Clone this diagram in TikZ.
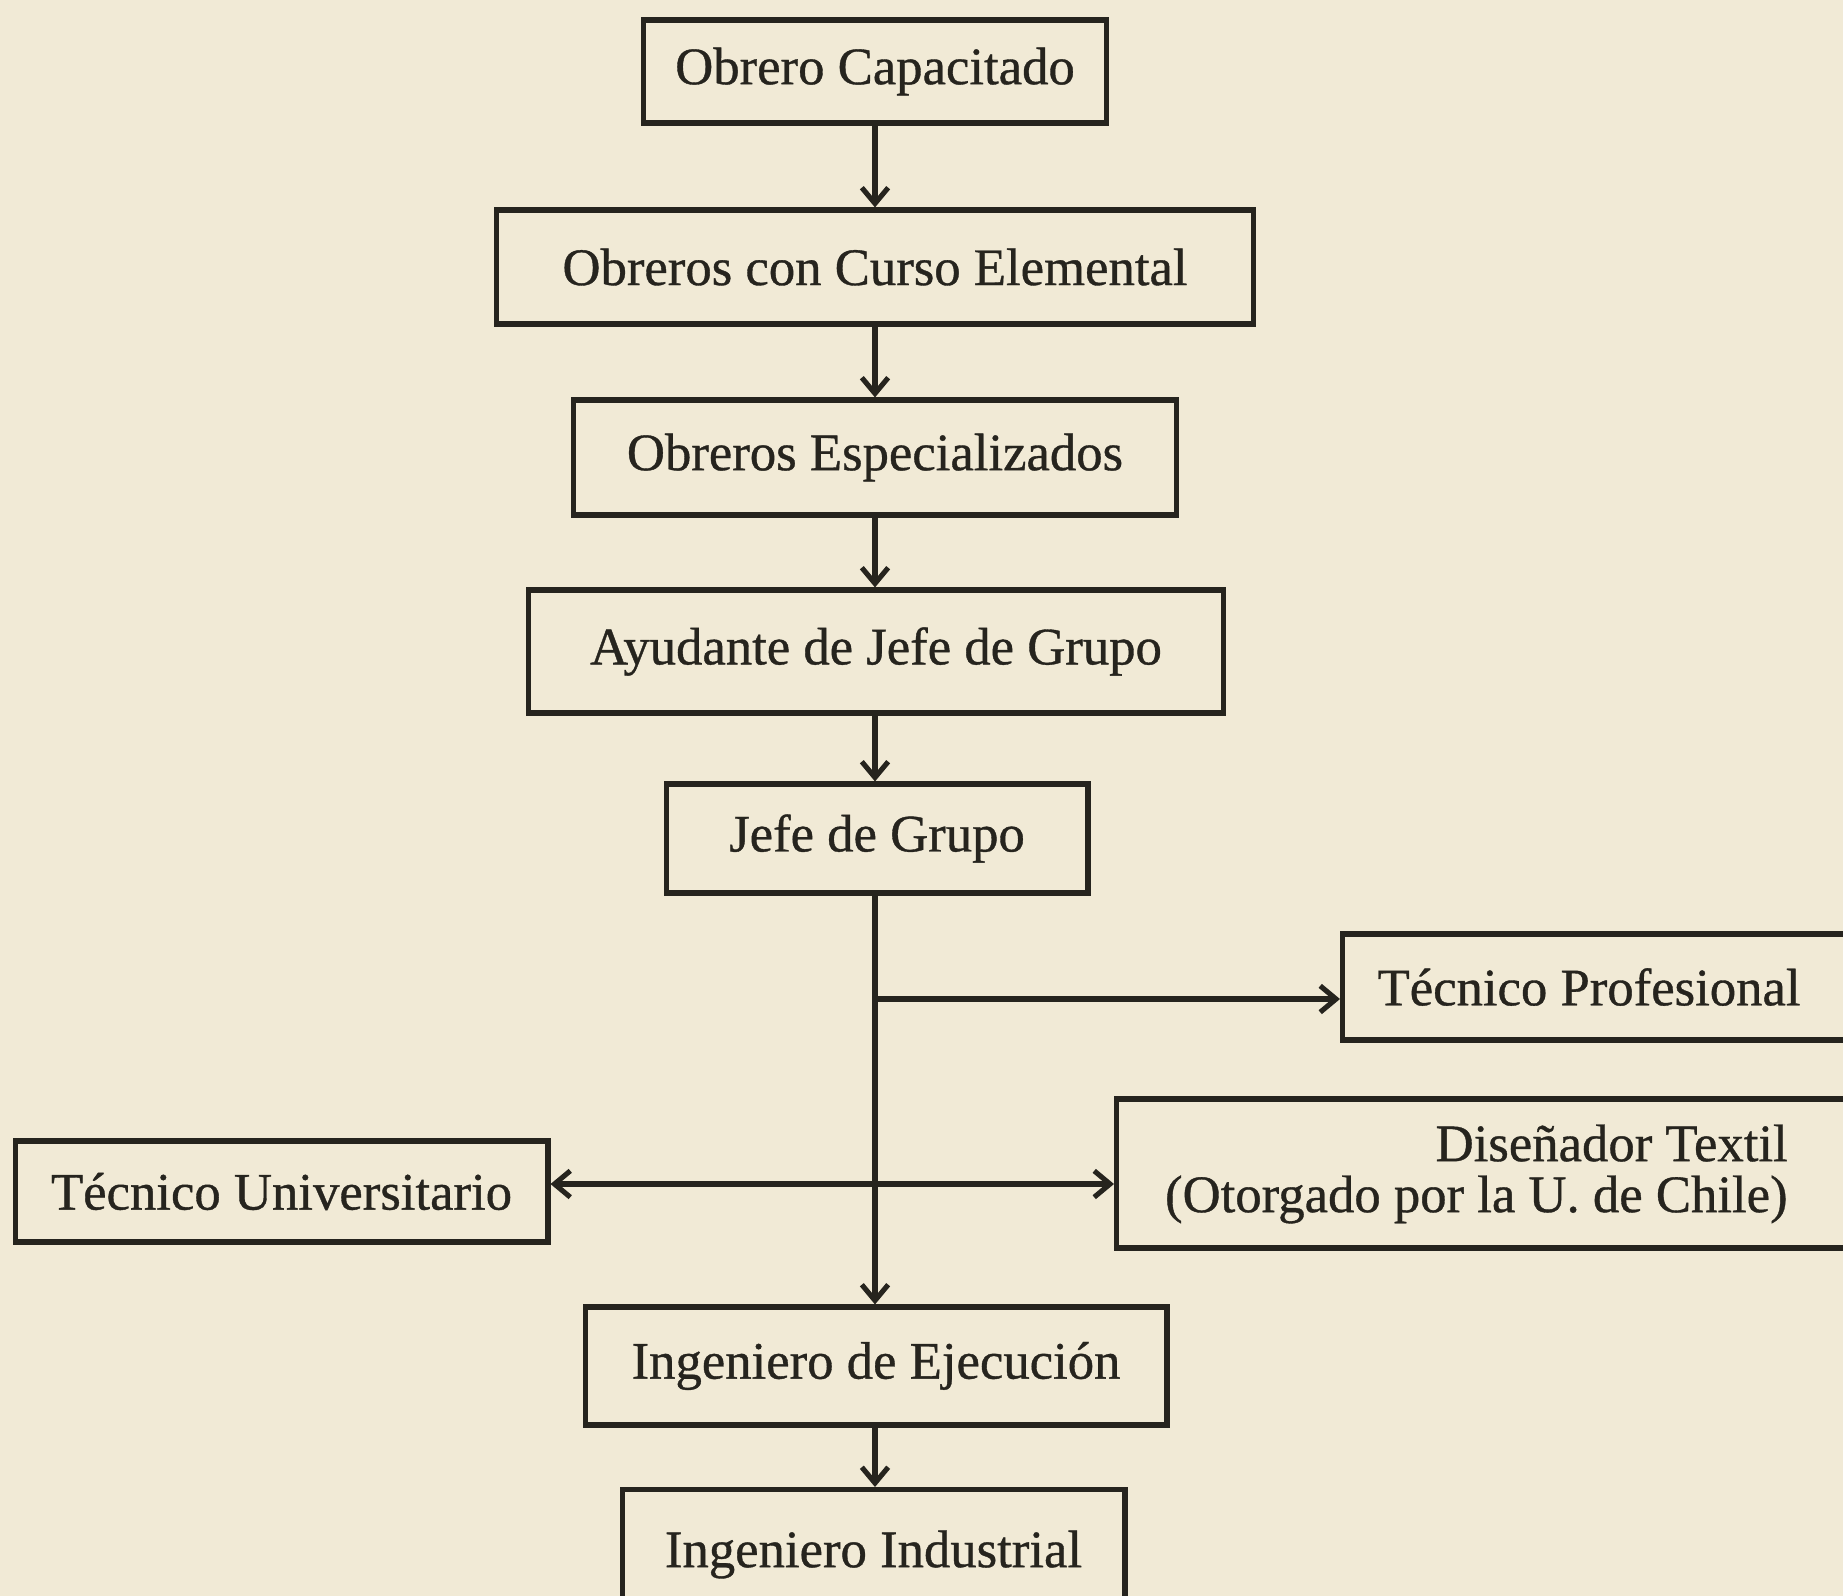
\documentclass[tikz,border=0pt]{standalone}
\usepackage{fontspec}
\setmainfont{Liberation Serif}
\newfontfamily\inkfont{Liberation Serif}[FakeBold=0.7]
\usepackage{xcolor}
\usepackage{tikz}
\usetikzlibrary{positioning, calc, arrows.meta}
\definecolor{papercolor}{RGB}{241,234,214}
\definecolor{inkcolor}{RGB}{38,36,30}

\begin{document}
\begin{tikzpicture}[x=0.02cm, y=-0.02cm]
	\tikzstyle{rankc}=[rectangle, draw=inkcolor, line width=2.9pt, inner sep=0pt, text=inkcolor, font=\inkfont\fontsize{30}{29}\selectfont]
	\tikzstyle{textc}=[inner sep=0pt, text=inkcolor, font=\inkfont\fontsize{30}{29}\selectfont]
	\tikzstyle{linkc}=[draw=inkcolor, line width=2.9pt, -{Straight Barb[length=9pt, width=15pt]}]

	\path[use as bounding box] (0,0) rectangle (1843,1596);
	\fill[papercolor] (0,0) rectangle (1843,1596);
	\clip (0,0) rectangle (1843,1596);

	% central column
	\node (n01) at (875,71.5) [rankc, minimum width=9.26cm, minimum height=2.06cm]{Obrero Capacitado};
	\node (n02) at (875,267) [rankc, minimum width=15.14cm, minimum height=2.28cm]{Obreros con Curso Elemental};
	\node (n03) at (875,457.5) [rankc, minimum width=12.06cm, minimum height=2.30cm]{Obreros Especializados};
	\node (n04) at (876,651.5) [rankc, minimum width=13.9cm, minimum height=2.46cm]{Ayudante de Jefe de Grupo};
	\node (n05) at (877,838.5) [rankc, minimum width=8.44cm, minimum height=2.18cm]{Jefe de Grupo};

	% side boxes
	\node (n06) at (1340,987) [rankc, anchor=west, text width=9.8cm, inner xsep=0.7cm, align=flush left, minimum height=2.12cm]{T\'ecnico Profesional};
	\node (n07) at (1114,1173.5) [rankc, anchor=west, minimum width=16.72cm, minimum height=2.98cm]{};
	\node (n07t) at (1788,1174) [textc, anchor=east, align=flush right]{Dise\~nador Textil\\(Otorgado por la U. de Chile)};
	\node (n08) at (281.5,1191.5) [rankc, minimum width=10.66cm, minimum height=2.02cm]{T\'ecnico Universitario};

	\node (n09) at (876,1366) [rankc, minimum width=11.64cm, minimum height=2.36cm]{Ingeniero de Ejecuci\'on};
	\node (n10) at (873.5,1487) [rankc, anchor=north, minimum width=10.06cm, minimum height=2.6cm]{Ingeniero Industrial};

	\coordinate (s01) at (875,999);
	\coordinate (s02) at (875,1184);

	\draw[linkc] (n01.south -| s01) -- (n02.north -| s01);
	\draw[linkc] (n02.south -| s01) -- (n03.north -| s01);
	\draw[linkc] (n03.south -| s01) -- (n04.north -| s01);
	\draw[linkc] (n04.south -| s01) -- (n05.north -| s01);
	\draw[linkc] (n05.south -| s01) -- (n09.north -| s01);

	\draw[linkc] (s01) -- (s01 -| n06.west);
	\draw[linkc] (s02) -- (s02 -| n08.east);
	\draw[linkc] (s02) -- (s02 -| n07.west);

	\draw[linkc] (n09.south -| s01) -- (n10.north -| s01);
\end{tikzpicture}
\end{document}
